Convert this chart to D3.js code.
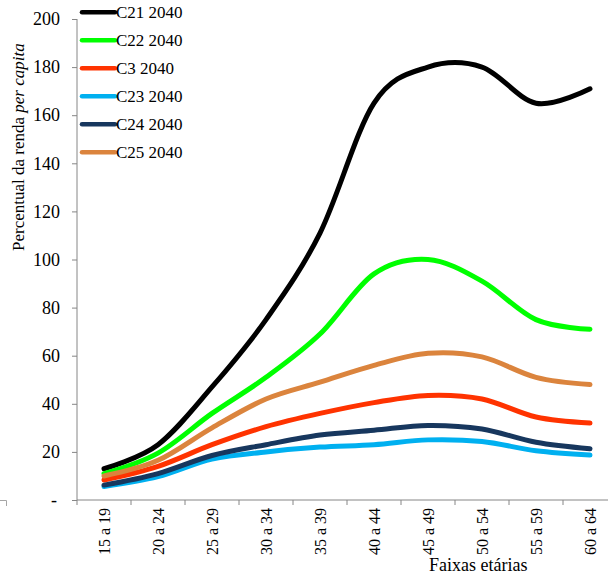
<!DOCTYPE html>
<html>
<head>
<meta charset="utf-8">
<script src="https://cdn.jsdelivr.net/npm/d3@7"></script>
<style>
  html, body { margin: 0; padding: 0; background: #fff; }
  svg { display: block; }
  text { font-family: "Liberation Serif", "Times New Roman", serif; fill: #000; }
</style>
</head>
<body>
<svg id="chart" width="608" height="575"></svg>
<script>
// Age groups on the horizontal axis
const categories = ["15 a 19", "20 a 24", "25 a 29", "30 a 34", "35 a 39",
                    "40 a 44", "45 a 49", "50 a 54", "55 a 59", "60 a 64"];

// Per-capita income percentage, by cluster, projected for 2040
const c21 = [13, 23, 47, 75, 111, 165, 180, 180, 165, 171];
const c22 = [11, 19.5, 36, 51, 69, 94, 100, 91, 75, 71];
const c3  = [8.3, 14, 23, 30.5, 36, 40.5, 43.5, 42, 34.5, 32];
const c23 = [5.6, 9.7, 17, 20, 22, 23, 25, 24.3, 20.5, 18.7];
const c24 = [6.2, 11, 18.5, 23, 27, 29, 31, 29.5, 24, 21.3];
const c25 = [10, 16.5, 30, 42, 49, 56, 61, 59.5, 51, 48];

const seriesNames  = ["C21 2040", "C22 2040", "C3 2040", "C23 2040", "C24 2040", "C25 2040"];
const seriesValues = [c21, c22, c3, c23, c24, c25];
const seriesColors = ["#000000", "#00ff00", "#ff3300", "#00b0f0", "#17375e", "#db843d"];

const yTicks = [0, 20, 40, 60, 80, 100, 120, 140, 160, 180, 200];

const svg = d3.select("#chart");
const axisColor = "#868686";

const x = d3.scaleBand().domain(categories).range([77, 617]).padding(0);
const y = d3.scaleLinear().domain([0, 200]).range([500, 19]);

// Y axis
const yAxis = svg.append("g")
  .attr("transform", "translate(77,0)")
  .call(d3.axisLeft(y).tickValues(yTicks).tickSize(5).tickPadding(12)
          .tickFormat(d => d === 0 ? "-" : d));
yAxis.select(".domain").attr("stroke", axisColor).attr("d", `M0,${y(200)}V${y(0)}`);
yAxis.selectAll(".tick line").attr("stroke", axisColor);
yAxis.selectAll(".tick text")
  .style("font-family", "'Liberation Serif', serif")
  .attr("font-size", 18)
  .attr("fill", "#000")
  .attr("dx", d => d === 0 ? -3 : 0);

// X axis: labels at band centres, tick marks at band boundaries
const xAxis = svg.append("g")
  .attr("transform", `translate(0,${y(0)})`)
  .call(d3.axisBottom(x).tickSize(0).tickPadding(0));
xAxis.select(".domain").attr("stroke", axisColor).attr("d", "M77,0H608");
xAxis.selectAll(".tick text")
  .style("font-family", "'Liberation Serif', serif")
  .attr("font-size", 16)
  .attr("fill", "#000")
  .attr("text-anchor", "end")
  .attr("transform", "translate(0,8) rotate(-90)")
  .attr("x", 0)
  .attr("y", 0)
  .attr("dy", "0.35em");

const boundaries = categories.map(c => x(c)).concat([x.range()[1]]);
xAxis.selectAll("line.bound")
  .data(boundaries)
  .join("line")
  .attr("class", "bound")
  .attr("x1", d => d).attr("x2", d => d)
  .attr("y1", 0).attr("y2", 5)
  .attr("stroke", axisColor);

// Small frame corner at the lower-left edge
svg.append("path")
  .attr("d", "M0,500.5H6.5V506")
  .attr("fill", "none")
  .attr("stroke", "#a6a6a6");

// Series lines (smoothed)
const line = d3.line()
  .x((d, i) => x(categories[i]) + x.bandwidth() / 2)
  .y(d => y(d))
  .curve(d3.curveCatmullRom.alpha(0));

svg.append("g")
  .selectAll("path")
  .data(seriesValues)
  .join("path")
  .attr("d", d => line(d))
  .attr("fill", "none")
  .attr("stroke", (d, i) => seriesColors[i])
  .attr("stroke-width", 5)
  .attr("stroke-linecap", "round")
  .attr("stroke-linejoin", "round");

// Legend
const legend = svg.append("g");
const legendY = d3.scalePoint().domain(seriesNames).range([12.3, 152.3]);
const item = legend.selectAll("g")
  .data(seriesNames)
  .join("g")
  .attr("transform", d => `translate(0,${legendY(d)})`);
item.append("line")
  .attr("x1", 82).attr("x2", 115)
  .attr("y1", 0).attr("y2", 0)
  .attr("stroke", (d, i) => seriesColors[i])
  .attr("stroke-width", 4.5)
  .attr("stroke-linecap", "round");
item.append("text")
  .attr("x", 116)
  .attr("y", 6)
  .attr("font-size", 17)
  .text(d => d);

// Axis titles
svg.append("text")
  .attr("x", 429)
  .attr("y", 571)
  .attr("font-size", 18)
  .text("Faixas etárias");

const yTitle = svg.append("text")
  .attr("transform", "translate(24,251) rotate(-90)")
  .attr("font-size", 17);
yTitle.append("tspan").text("Percentual  da renda ");
yTitle.append("tspan").attr("font-style", "italic").text("per capita");
</script>
</body>
</html>
